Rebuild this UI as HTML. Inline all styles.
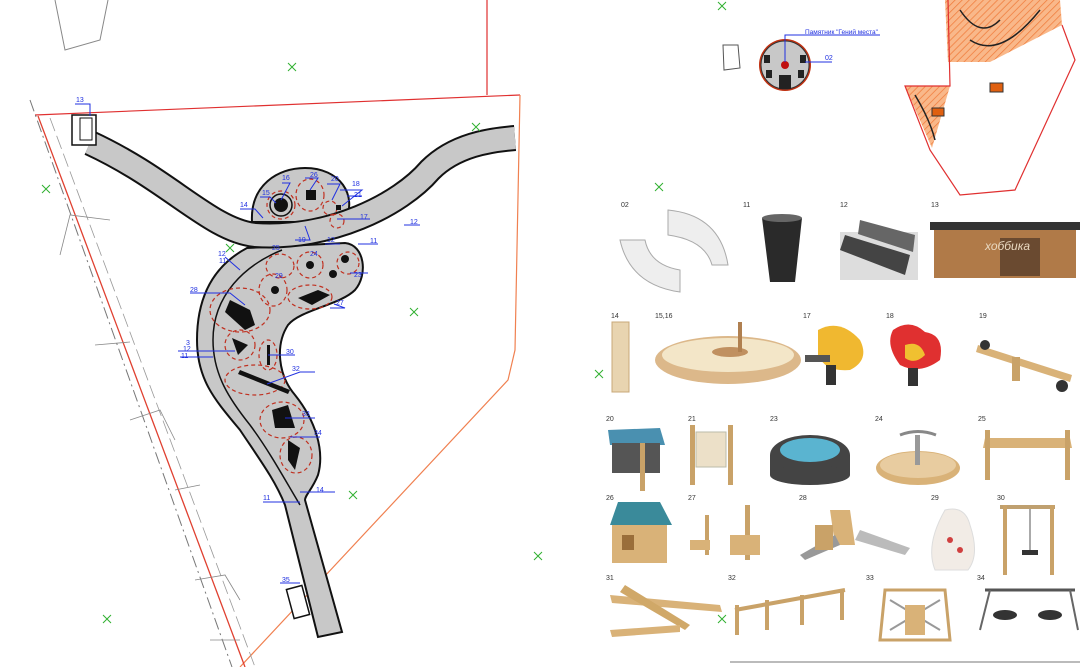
<!DOCTYPE html>
<html><head><meta charset="utf-8"><style>
html,body{margin:0;padding:0;background:#fff;width:1080px;height:667px;overflow:hidden}
svg{display:block}
text{font-family:"Liberation Sans",sans-serif}
</style></head><body>
<svg width="1080" height="667" viewBox="0 0 1080 667" xmlns="http://www.w3.org/2000/svg">
<defs>
<pattern id="h" width="5" height="5" patternUnits="userSpaceOnUse" patternTransform="rotate(45)">
<rect width="5" height="5" fill="#f9b88a"/><line x1="0" y1="0" x2="0" y2="5" stroke="#f07c3c" stroke-width="1.5"/></pattern>
</defs>
<!-- parcel lines -->
<polyline points="55,0 65,50 100,40 108,0" fill="none" stroke="#888" stroke-width="1"/>
<line x1="487" y1="0" x2="487" y2="95" stroke="#e03030" stroke-width="1.2"/>
<line x1="35" y1="115" x2="520" y2="95" stroke="#e03030" stroke-width="1.2"/>
<polyline points="520,95 515,350 508,380 240,667" fill="none" stroke="#f08050" stroke-width="1.2"/>
<line x1="38" y1="116" x2="245" y2="667" stroke="#e04030" stroke-width="1.3"/>
<line x1="30" y1="100" x2="232" y2="667" stroke="#777" stroke-width="1" stroke-dasharray="12,4,2,4"/>
<line x1="50" y1="118" x2="255" y2="667" stroke="#999" stroke-width="0.8" stroke-dasharray="14,5"/>
<g stroke="#888" stroke-width="0.8" fill="none">
<polyline points="60,255 70,215 110,220"/><polyline points="95,345 130,342"/><polyline points="130,420 160,410 175,440"/>
<polyline points="175,490 200,485"/><polyline points="195,580 225,575 240,600"/><polyline points="210,640 240,640"/>
</g>
<!-- plazas -->
<path d="M252,222 C250,185 278,168 305,168 C340,168 358,195 345,222 Z" fill="#c8c8c8" stroke="#111" stroke-width="2"/>
<path d="M247,248 L345,243 C365,245 368,275 355,290 C340,305 300,310 288,325 C275,345 278,375 295,395 C315,420 325,450 318,475 C312,490 305,495 305,500 L342,632 L318,637 L285,505 C275,480 260,460 240,430 C215,400 197,380 197,340 C197,295 215,265 247,248 Z" fill="#c8c8c8" stroke="#111" stroke-width="2"/>
<path d="M282,250 C245,265 213,295 213,340 C213,375 230,400 250,425 C270,452 285,480 300,505" fill="none" stroke="#111" stroke-width="1.5"/>
<!-- upper band -->
<g fill="none">
<path d="M90,143 C170,180 210,230 255,235 C330,240 400,205 430,170 C455,145 490,140 515,138" stroke="#111" stroke-width="26"/>
<path d="M90,143 C170,180 210,230 255,235 C330,240 400,205 430,170 C455,145 490,140 515,138" stroke="#c8c8c8" stroke-width="22"/>
</g>
<!-- red dashed zones and equipment -->
<g fill="none" stroke="#c03020" stroke-width="1.2" stroke-dasharray="4,3">
<circle cx="281" cy="205" r="14"/><ellipse cx="310" cy="195" rx="14" ry="16"/>
<circle cx="330" cy="208" r="7"/><circle cx="337" cy="221" r="7"/><ellipse cx="280" cy="266" rx="14" ry="12"/>
<circle cx="310" cy="265" r="13"/><circle cx="348" cy="263" r="11"/><ellipse cx="273" cy="290" rx="14" ry="16"/>
<ellipse cx="310" cy="297" rx="22" ry="12"/><ellipse cx="240" cy="310" rx="30" ry="22"/><ellipse cx="240" cy="345" rx="15" ry="15"/>
<ellipse cx="268" cy="355" rx="9" ry="15"/><ellipse cx="255" cy="380" rx="30" ry="15"/><ellipse cx="282" cy="420" rx="22" ry="18"/>
<ellipse cx="296" cy="455" rx="16" ry="18"/>
</g>
<g fill="#111">
<circle cx="281" cy="205" r="7"/><rect x="306" y="190" width="10" height="10"/><circle cx="310" cy="265" r="4"/>
<circle cx="333" cy="274" r="4"/><circle cx="275" cy="290" r="4"/><path d="M298,298 L318,290 L330,295 L312,305 Z"/>
<path d="M230,300 L250,310 L255,325 L245,330 L225,312 Z"/><path d="M232,338 L248,345 L238,355 Z"/><rect x="267" y="345" width="3" height="20"/>
<path d="M240,370 L290,390 L288,394 L238,374 Z"/><path d="M272,410 L288,405 L295,428 L275,428 Z"/><path d="M288,440 L300,448 L295,470 L288,460 Z"/>
<circle cx="345" cy="259" r="4"/><rect x="336" y="205" width="5" height="5"/>
</g>
<circle cx="281" cy="205" r="11" fill="none" stroke="#111" stroke-width="1.5"/>
<!-- buildings -->
<rect x="72" y="115" width="24" height="30" fill="#fff" stroke="#111" stroke-width="1.5"/><rect x="80" y="118" width="12" height="22" fill="none" stroke="#111"/>
<rect x="290" y="587" width="16" height="30" fill="#fff" stroke="#111" stroke-width="1.5" transform="rotate(-15 298 602)"/>
<!-- blue labels -->
<g stroke="#2030e0" stroke-width="1" fill="none">
<path d="M75,104 H90 L90,116"/><path d="M240,209 H255 L263,218"/><path d="M260,197 H270 L276,203"/><path d="M282,183 H290 L281,200"/>
<path d="M305,178 H318 L310,190"/><path d="M327,184 H340 L332,200"/><path d="M340,190 H362 L342,206"/><path d="M347,196 H362"/>
<path d="M337,219 H370"/><path d="M404,225 H420"/><path d="M295,240 H310 L305,226"/><path d="M358,244 H378"/><path d="M325,244 H340"/>
<path d="M190,293 H230 L245,305"/><path d="M225,257 L240,270"/><path d="M178,351 H235"/><path d="M180,357 H213"/><path d="M268,355 H295"/>
<path d="M267,384 L300,372 H315"/><path d="M334,304 L345,308 H330"/><path d="M350,273 H368"/><path d="M285,418 H315"/>
<path d="M290,437 H320"/><path d="M263,502 H300"/><path d="M300,492 H335"/><path d="M280,583 H300"/>
</g>
<g fill="#2030e0" font-size="7">
<text x="76" y="102">13</text><text x="240" y="207">14</text><text x="262" y="195">15</text><text x="282" y="180">16</text>
<text x="310" y="177">26</text><text x="331" y="181">20</text><text x="352" y="186">18</text><text x="354" y="197">21</text>
<text x="360" y="219">17</text><text x="410" y="224">12</text><text x="298" y="242">19</text><text x="327" y="242">12</text>
<text x="370" y="243">11</text><text x="272" y="250">25</text><text x="310" y="256">24</text><text x="354" y="277">23</text>
<text x="275" y="278">29</text><text x="336" y="305">27</text><text x="190" y="292">28</text><text x="218" y="256">12</text>
<text x="219" y="263">11</text><text x="186" y="345">3</text><text x="183" y="351">12</text><text x="181" y="358">11</text>
<text x="286" y="354">30</text><text x="292" y="371">32</text><text x="302" y="416">33</text><text x="314" y="435">34</text>
<text x="263" y="500">11</text><text x="316" y="492">14</text><text x="282" y="582">35</text>
</g>
<!-- green crosses -->
<g stroke="#30b030" stroke-width="1">
<path d="M288,63 l8,8 m0,-8 l-8,8"/><path d="M472,123 l8,8 m0,-8 l-8,8"/><path d="M42,185 l8,8 m0,-8 l-8,8"/>
<path d="M226,244 l8,8 m0,-8 l-8,8"/><path d="M410,308 l8,8 m0,-8 l-8,8"/><path d="M349,491 l8,8 m0,-8 l-8,8"/>
<path d="M534,552 l8,8 m0,-8 l-8,8"/><path d="M103,615 l8,8 m0,-8 l-8,8"/><path d="M718,2 l8,8 m0,-8 l-8,8"/>
<path d="M655,183 l8,8 m0,-8 l-8,8"/><path d="M595,370 l8,8 m0,-8 l-8,8"/><path d="M718,615 l8,8 m0,-8 l-8,8"/>
</g>
<!-- top right site -->
<polygon points="723,45 738,45 740,68 724,70" fill="none" stroke="#555"/>
<circle cx="785" cy="65" r="26" fill="#c03010"/><circle cx="785" cy="65" r="24" fill="#c8c8c8" stroke="#333"/>
<circle cx="785" cy="65" r="4" fill="#c01010"/><rect x="779" y="75" width="12" height="14" fill="#222"/>
<g fill="#222"><rect x="764" y="55" width="6" height="8"/><rect x="800" y="55" width="6" height="8"/><rect x="766" y="70" width="6" height="8"/><rect x="798" y="70" width="6" height="8"/></g>
<path d="M785,62 V35 H880" stroke="#2030e0" fill="none"/><path d="M805,62 H832" stroke="#2030e0" fill="none"/>
<text x="805" y="34" font-size="6.5" fill="#2030e0">Памятник "Гений места"</text><text x="825" y="60" font-size="7" fill="#2030e0">02</text>
<polygon points="945,0 1060,0 1062,25 990,62 948,62" fill="url(#h)"/>
<polygon points="905,86 950,86 932,148" fill="url(#h)"/>
<polyline points="948,0 950,86 905,86 930,150 960,195 1015,190 1075,60 1062,25" fill="none" stroke="#e03030" stroke-width="1.2"/>
<rect x="990" y="83" width="13" height="9" fill="#e06010" stroke="#333"/><rect x="932" y="108" width="12" height="8" fill="#e06010" stroke="#333"/>
<path d="M960,10 Q980,40 1000,20 M970,40 Q1000,60 1040,10" stroke="#222" fill="none" stroke-width="1.5"/>
<path d="M915,95 Q930,120 935,140" stroke="#222" fill="none" stroke-width="1.5"/>
<!-- catalog -->
<g font-size="7" fill="#333">
<text x="621" y="207">02</text><text x="743" y="207">11</text><text x="840" y="207">12</text><text x="931" y="207">13</text>
<text x="611" y="318">14</text><text x="655" y="318">15,16</text><text x="803" y="318">17</text><text x="886" y="318">18</text><text x="979" y="318">19</text>
<text x="606" y="421">20</text><text x="688" y="421">21</text><text x="770" y="421">23</text><text x="875" y="421">24</text><text x="978" y="421">25</text>
<text x="606" y="500">26</text><text x="688" y="500">27</text><text x="799" y="500">28</text><text x="931" y="500">29</text><text x="997" y="500">30</text>
<text x="606" y="580">31</text><text x="728" y="580">32</text><text x="866" y="580">33</text><text x="977" y="580">34</text>
</g>
<!-- row 1 -->
<path d="M620,240 Q630,285 680,292 L680,270 Q650,265 645,240 Z" fill="#eee" stroke="#aaa"/>
<path d="M668,210 Q720,215 728,265 L712,265 Q705,240 668,235 Z" fill="#eee" stroke="#aaa"/>
<path d="M762,218 H802 L795,282 H770 Z" fill="#2a2a2a"/><ellipse cx="782" cy="218" rx="20" ry="4" fill="#666"/>
<rect x="840" y="232" width="78" height="48" fill="#ddd"/><path d="M845,235 L910,255 L905,275 L840,250 Z" fill="#444"/><path d="M860,220 L915,235 L913,252 L858,234 Z" fill="#666"/>
<rect x="930" y="222" width="150" height="8" fill="#333"/><rect x="934" y="230" width="142" height="48" fill="#b07a48"/>
<rect x="1000" y="238" width="40" height="38" fill="#6a4a30"/><text x="985" y="250" font-size="12" fill="#e8d8c0" font-style="italic">хоббика</text>
<!-- row 2 -->
<rect x="612" y="322" width="17" height="70" fill="#e8d4b0" stroke="#c8a878"/>
<ellipse cx="728" cy="360" rx="73" ry="24" fill="#dcb88a"/><ellipse cx="728" cy="355" rx="66" ry="17" fill="#f3e6c8"/><ellipse cx="730" cy="352" rx="18" ry="5" fill="#c09060"/><rect x="738" y="322" width="4" height="30" fill="#b08050"/>
<path d="M818,330 Q840,318 860,340 Q870,360 850,370 Q825,372 818,355 Z" fill="#f0b830"/><path d="M805,355 H830 V362 H805 Z" fill="#555"/><rect x="826" y="365" width="10" height="20" fill="#333"/>
<path d="M893,330 Q910,318 925,332 Q945,335 940,360 Q920,375 900,365 Q885,345 893,330 Z" fill="#e03030"/><path d="M905,345 Q920,340 925,355 Q915,365 905,358 Z" fill="#f0c030"/><rect x="908" y="368" width="10" height="18" fill="#333"/>
<path d="M978,345 L1072,375 L1070,382 L976,352 Z" fill="#d9b278"/><rect x="1012" y="357" width="8" height="24" fill="#c9a268"/><circle cx="985" cy="345" r="5" fill="#333"/><circle cx="1062" cy="386" r="6" fill="#333"/>
<!-- row 3 -->
<path d="M608,430 L660,428 L665,445 L610,445 Z" fill="#4a90b0"/><rect x="612" y="443" width="48" height="30" fill="#555"/><rect x="640" y="443" width="5" height="48" fill="#c9a268"/>
<rect x="690" y="425" width="5" height="60" fill="#c9a268"/><rect x="728" y="425" width="5" height="60" fill="#c9a268"/><rect x="696" y="432" width="30" height="35" fill="#ece0c8" stroke="#bba"/>
<ellipse cx="810" cy="455" rx="40" ry="20" fill="#444"/><rect x="770" y="455" width="80" height="20" fill="#444"/><ellipse cx="810" cy="475" rx="40" ry="10" fill="#444"/><ellipse cx="810" cy="450" rx="30" ry="12" fill="#5ab4d0"/>
<ellipse cx="918" cy="468" rx="42" ry="17" fill="#d9b278"/><ellipse cx="918" cy="465" rx="38" ry="13" fill="#e8cca0"/><rect x="915" y="435" width="5" height="30" fill="#999"/><path d="M900,435 Q918,428 936,435" stroke="#888" fill="none" stroke-width="3"/>
<path d="M985,438 H1070 L1072,448 H983 Z" fill="#d9b278"/><rect x="985" y="430" width="5" height="50" fill="#c9a268"/><rect x="1065" y="430" width="5" height="50" fill="#c9a268"/>
<!-- row 4 -->
<path d="M618,502 L660,502 L672,525 L610,525 Z" fill="#3a8a9a"/><rect x="612" y="525" width="55" height="38" fill="#d9b278"/><rect x="622" y="535" width="12" height="15" fill="#9a6e3a"/>
<rect x="705" y="515" width="4" height="40" fill="#c9a268"/><rect x="745" y="505" width="5" height="55" fill="#c9a268"/><rect x="690" y="540" width="20" height="10" fill="#d9b278"/><rect x="730" y="535" width="30" height="20" fill="#d9b278"/>
<path d="M830,510 L850,510 L855,545 L835,545 Z" fill="#d9b278"/><path d="M800,555 L835,535 L840,545 L805,560 Z" fill="#999"/><path d="M860,530 L910,548 L905,555 L855,540 Z" fill="#bbb"/><rect x="815" y="525" width="18" height="25" fill="#c9a268"/>
<path d="M945,510 Q965,505 970,525 Q980,555 968,570 L935,570 Q925,545 945,510 Z" fill="#f2ece6" stroke="#ddd"/><circle cx="950" cy="540" r="3" fill="#d04040"/><circle cx="960" cy="550" r="3" fill="#d04040"/>
<rect x="1000" y="505" width="55" height="4" fill="#bfa070"/><rect x="1003" y="505" width="4" height="70" fill="#c9a268"/><rect x="1050" y="505" width="4" height="70" fill="#c9a268"/><line x1="1030" y1="509" x2="1030" y2="550" stroke="#555"/><rect x="1022" y="550" width="16" height="5" fill="#333"/>
<!-- row 5 -->
<path d="M610,595 L720,605 L722,612 L612,603 Z" fill="#d9b278"/><path d="M625,585 L690,625 L685,630 L620,592 Z" fill="#d0a868"/><path d="M610,630 L680,625 L680,632 L612,637 Z" fill="#d9b278"/>
<path d="M735,610 L845,590" stroke="#c9a268" stroke-width="4"/><g fill="#c9a268"><rect x="735" y="605" width="4" height="30"/><rect x="765" y="600" width="4" height="30"/><rect x="800" y="595" width="4" height="30"/><rect x="840" y="590" width="4" height="30"/></g>
<path d="M885,590 L945,590 L950,640 L880,640 Z" fill="none" stroke="#c9a268" stroke-width="3"/><path d="M890,600 L940,630 M890,630 L940,600" stroke="#999" stroke-width="2"/><rect x="905" y="605" width="20" height="30" fill="#d9b278"/>
<path d="M985,590 H1075" stroke="#555" stroke-width="3"/><path d="M990,590 L980,630 M1070,590 L1078,630" stroke="#666" stroke-width="2"/><ellipse cx="1005" cy="615" rx="12" ry="5" fill="#333"/><ellipse cx="1050" cy="615" rx="12" ry="5" fill="#333"/>
<line x1="730" y1="662" x2="1080" y2="662" stroke="#777"/>
</svg>
</body></html>
